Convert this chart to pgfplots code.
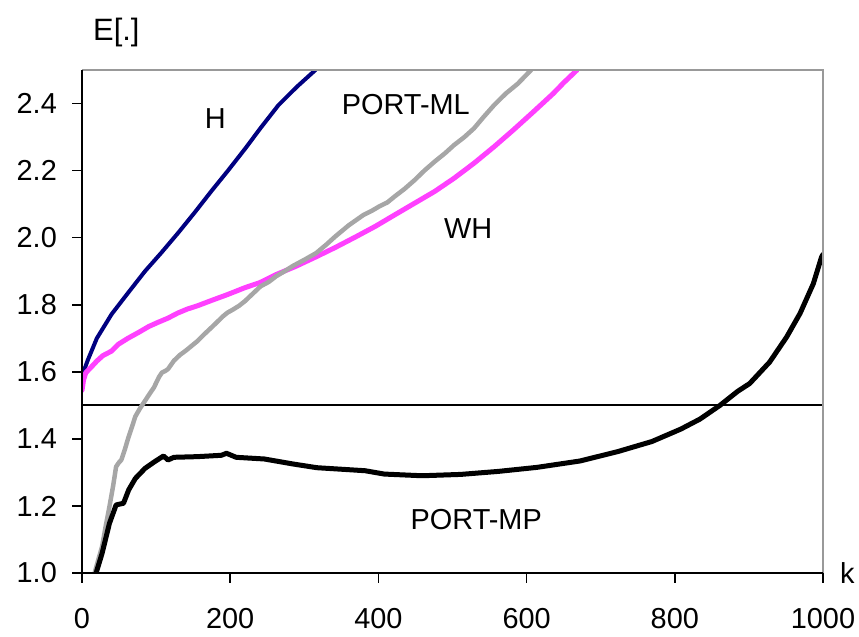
\documentclass[border=0pt]{standalone}
\usepackage{fontspec}
\setmainfont{Liberation Sans}
\usepackage{pgfplots}
\pgfplotsset{compat=1.18}
\usetikzlibrary{calc}
\definecolor{hblue}{HTML}{000080}
\definecolor{whpink}{HTML}{FF40FF}
\definecolor{mlgray}{HTML}{A6A6A6}
\definecolor{framegray}{HTML}{999999}

\pgfplotstableread{
x y
0 1.565
2 1.600
8 1.636
20 1.700
40 1.772
62 1.835
85 1.900
107 1.955
130 2.015
152 2.075
175 2.140
197 2.200
220 2.265
242 2.330
265 2.395
290 2.450
315 2.500
}\Hdata

\pgfplotstableread{
x y
0 1.545
2 1.575
5 1.597
12 1.613
20 1.632
28 1.648
40 1.662
49 1.682
62 1.700
76 1.717
90 1.735
102 1.747
116 1.760
129 1.775
142 1.787
156 1.797
175 1.813
196 1.830
220 1.851
240 1.866
262 1.890
289 1.915
316 1.943
342 1.971
369 2.002
396 2.034
422 2.068
449 2.103
476 2.138
502 2.177
529 2.222
556 2.271
582 2.321
609 2.375
636 2.430
650 2.462
668 2.500
}\WHdata

\pgfplotstableread{
x y
17 1.000
22 1.040
27 1.078
32 1.140
37 1.198
42 1.260
46 1.317
50 1.330
53 1.337
58 1.370
63 1.407
68 1.440
72 1.467
78 1.490
84 1.510
92 1.537
97 1.553
104 1.585
108 1.598
112 1.602
116 1.608
124 1.633
132 1.650
140 1.663
156 1.692
165 1.712
177 1.737
190 1.765
196 1.776
204 1.786
212 1.797
220 1.811
230 1.832
241 1.855
252 1.868
262 1.885
275 1.902
284 1.915
300 1.934
316 1.954
330 1.980
342 2.004
360 2.037
380 2.068
391 2.080
401 2.093
412 2.105
422 2.123
435 2.145
449 2.172
462 2.200
476 2.227
490 2.252
502 2.276
516 2.300
529 2.326
542 2.360
556 2.395
572 2.430
588 2.459
606 2.500
}\MLdata

\pgfplotstableread{
x y
19 1.000
27 1.058
37 1.148
46 1.203
56 1.208
63 1.248
72 1.282
85 1.312
98 1.332
110 1.349
116 1.337
124 1.345
156 1.347
188 1.351
195 1.357
208 1.345
246 1.340
285 1.325
317 1.314
382 1.305
408 1.295
459 1.290
511 1.294
562 1.303
614 1.315
672 1.334
723 1.362
769 1.392
808 1.429
834 1.459
861 1.500
885 1.542
901 1.565
928 1.629
951 1.704
969 1.774
987 1.863
998 1.942
1000 1.950
}\MPdata

\begin{document}
\begin{tikzpicture}
\begin{axis}[
  scale only axis,
  width=741bp, height=503bp,
  xmin=0, xmax=1000, ymin=1.0, ymax=2.5,
  ticks=none,
  axis line style={draw=none},
  every axis plot/.append style={line join=round, line cap=round},
]
\addplot[black, line width=2bp, line cap=butt] coordinates {(0,1.5) (1000,1.5)};
\addplot[hblue, line width=4bp] table[x=x, y=y] {\Hdata};
\addplot[whpink, line width=5bp] table[x=x, y=y] {\WHdata};
\addplot[mlgray, line width=4.5bp] table[x=x, y=y] {\MLdata};
\addplot[black, line width=5bp] table[x=x, y=y] {\MPdata};

\node[font=\fontsize{29}{34}\selectfont] at (axis cs:180,2.355) {H};
\node[font=\fontsize{29}{34}\selectfont] at (axis cs:437,2.397) {PORT-ML};
\node[font=\fontsize{29}{34}\selectfont] at (axis cs:521,2.028) {WH};
\node[font=\fontsize{29}{34}\selectfont] at (axis cs:532,1.158) {PORT-MP};

\coordinate (O) at (rel axis cs:0,0);
\coordinate (XR) at (rel axis cs:1,0);
\coordinate (YT) at (rel axis cs:0,1);
\coordinate (TR) at (rel axis cs:1,1);
\coordinate (bl) at (rel axis cs:-0.1107,-0.1272);
\coordinate (tr) at (rel axis cs:1.0486,1.1392);
\end{axis}
\draw[framegray, line width=2.5bp] (YT) -- (TR) -- (XR);
\draw[black, line width=2bp] (YT) -- (O) -- (XR);
\foreach \f/\lab in {0/0,0.2/200,0.4/400,0.6/600,0.8/800,1/1000}{
  \draw[black, line width=1.6bp] ($(O)!\f!(XR)$) -- ++(0,-10bp);
  \node[font=\fontsize{29}{34}\selectfont, anchor=north, inner sep=0pt] at ($(O)!\f!(XR)+(0,-35bp)$) {\lab};
}
\foreach \f/\lab in {0/1.0,0.13333/1.2,0.26667/1.4,0.4/1.6,0.53333/1.8,0.66667/2.0,0.8/2.2,0.93333/2.4}{
  \draw[black, line width=1.6bp] ($(O)!\f!(YT)$) -- ++(-10bp,0);
  \node[font=\fontsize{29}{34}\selectfont, anchor=east, inner sep=0pt] at ($(O)!\f!(YT)+(-25bp,0)$) {\lab};
}
\node[font=\fontsize{29}{34}\selectfont, anchor=west, inner sep=0pt] at ([xshift=17bp]XR) {k};
\node[font=\fontsize{31}{36}\selectfont, anchor=base west, inner sep=0pt] at ([xshift=11bp, yshift=30bp]YT) {E[.]};
\path (bl) rectangle (tr);
\end{tikzpicture}
\end{document}
